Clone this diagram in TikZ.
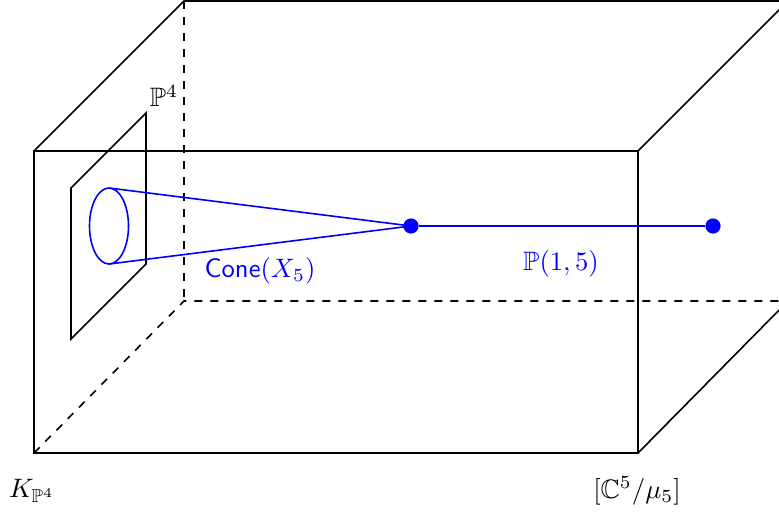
\documentclass[tikz,border=0pt]{standalone}
\usepackage{amssymb}
\begin{document}
\begin{tikzpicture}[x=0.375pt,y=-0.375pt,
  edge/.style={black,line width=0.6pt},
  hid/.style={black,line width=0.6pt,dashed},
  bl/.style={blue,line width=0.6pt},
  dot/.style={circle,fill=blue,inner sep=0pt,minimum size=5.7pt},
  lab/.style={inner sep=0pt}]
\useasboundingbox (0,0) rectangle (779,514);
\clip (0,0) rectangle (779,514);
% box corners
\coordinate (A) at (34,151);
\coordinate (B) at (638,151);
\coordinate (C) at (638,453);
\coordinate (D) at (34,453);
\coordinate (A2) at (184,1);
\coordinate (B2) at (788,1);
\coordinate (C2) at (788,301);
\coordinate (D2) at (184,301);
% hidden edges
\draw[hid] (D) -- (D2) -- (C2);
\draw[hid] (A2) -- (D2);
% visible edges
\draw[edge] (A) rectangle (C);
\draw[edge] (A) -- (A2) -- (B2) -- (C2);
\draw[edge] (B) -- (B2);
\draw[edge] (C) -- (C2);
% P^4 plane
\coordinate (P1) at (71,188);
\coordinate (P2) at (146,113);
\coordinate (P3) at (146,264);
\coordinate (P4) at (71,339);
\draw[edge] (P1) -- (P2) -- (P3) -- (P4) -- cycle;
\node[lab] (p4) at (164,96) {$\mathbb{P}^4$};
% cone
\draw[bl] (109,226) ellipse [x radius=19.5, y radius=38];
\coordinate (et) at (109,188);
\coordinate (eb) at (109,264);
\node[dot] (apex) at (411,226) {};
\node[dot] (end) at (713,226) {};
\draw[bl] (et) -- (apex.center) -- (eb);
\draw[bl] (apex) -- (end);
\node[lab,blue] (cone) at (260,271) {\textsf{Cone}$(X_5)$};
\node[lab,blue] (p15) at (561,264) {$\mathbb{P}(1,5)$};
% corner labels
\node[lab] (K) at (32,491) {$K_{\mathbb{P}^4}$};
\node[lab] (Cq) at (637,491) {$[\mathbb{C}^5/\mu_5]$};
\end{tikzpicture}
\end{document}
